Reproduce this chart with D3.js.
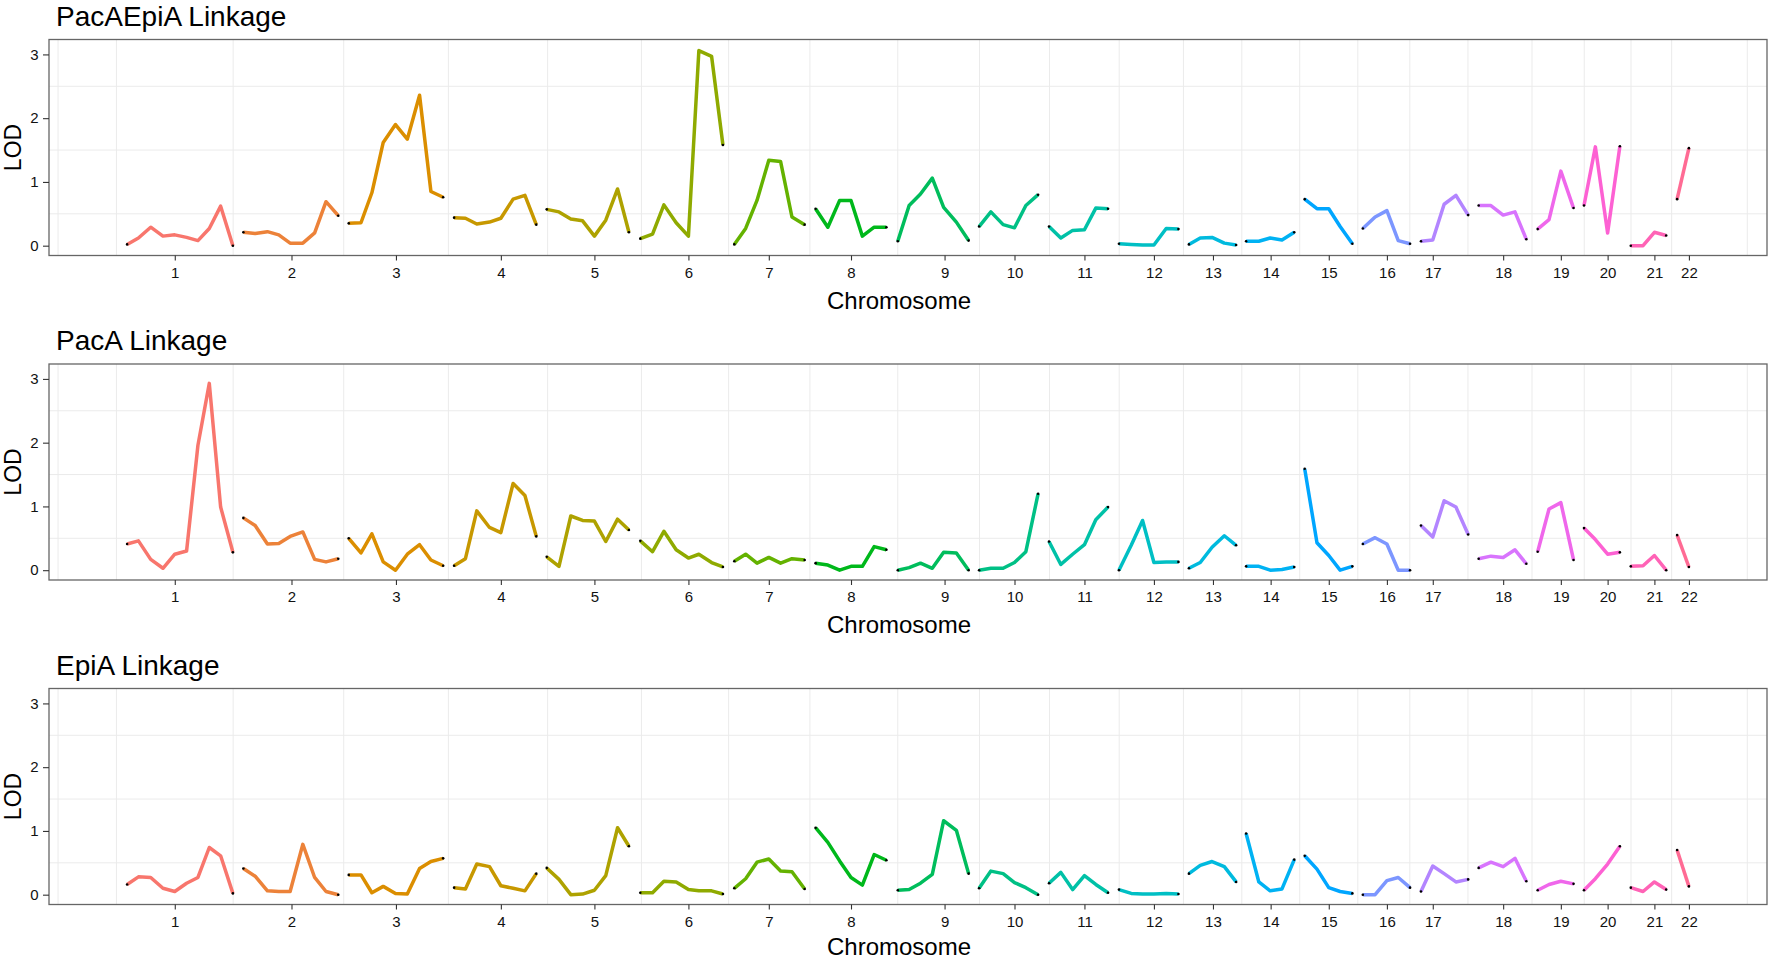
<!doctype html>
<html lang="en">
<head>
<meta charset="utf-8">
<title>Linkage LOD by chromosome</title>
<style>
  html, body { margin: 0; padding: 0; background: #fff; }
  svg text { font-family: "Liberation Sans", Arial, Helvetica, sans-serif; fill: #000; }
  .grid line { stroke: #ebebeb; stroke-width: 1; }
  .axis .domain { display: none; }
  .axis line { stroke: #333; stroke-width: 1.1; }
  .axis text { font-size: 15px; fill: #111; }
</style>
</head>
<body>
<div id="vis"></div>
<script src="https://d3js.org/d3.v7.min.js"></script>
<script>
var chromosomes = ['1','2','3','4','5','6','7','8','9','10','11','12','13','14','15','16','17','18','19','20','21','22'];

// tick position (cM, cumulative) of each chromosome label
var chrTicks = [105, 362, 592, 823, 1029, 1236, 1413, 1594, 1800, 1954, 2108, 2261,
                2391, 2518, 2646, 2774, 2875, 3030, 3157, 3260, 3363, 3439];

// marker positions (cM, cumulative), one list per chromosome
var markerPos = [
  [0, 25, 52, 79, 105, 131, 156, 181, 206, 233],
  [256, 282, 309, 334, 359, 387, 413, 438, 465],
  [488, 515, 539, 564, 591, 617, 644, 669, 696],
  [720, 745, 770, 798, 823, 850, 876, 901],
  [924, 951, 977, 1003, 1029, 1054, 1080, 1105],
  [1130, 1157, 1182, 1209, 1236, 1259, 1287, 1312],
  [1337, 1362, 1387, 1413, 1439, 1464, 1492],
  [1516, 1543, 1569, 1594, 1619, 1645, 1672],
  [1697, 1722, 1747, 1773, 1798, 1826, 1853],
  [1876, 1902, 1929, 1954, 1979, 2006],
  [2030, 2056, 2082, 2108, 2133, 2160],
  [2184, 2211, 2236, 2261, 2288, 2315],
  [2338, 2363, 2389, 2416, 2442],
  [2464, 2492, 2517, 2543, 2570],
  [2593, 2620, 2646, 2671, 2698],
  [2721, 2748, 2774, 2799, 2825],
  [2849, 2875, 2900, 2926, 2953],
  [2976, 3003, 3030, 3056, 3081],
  [3106, 3131, 3157, 3185],
  [3208, 3233, 3260, 3287],
  [3311, 3338, 3363, 3389],
  [3413, 3439]
];

var lodPacAEpiA = [
  [0.02, 0.12, 0.29, 0.15, 0.17, 0.13, 0.08, 0.27, 0.62, 0.0],
  [0.21, 0.19, 0.22, 0.17, 0.04, 0.04, 0.20, 0.69, 0.47],
  [0.35, 0.36, 0.83, 1.62, 1.90, 1.67, 2.36, 0.85, 0.76],
  [0.44, 0.43, 0.34, 0.37, 0.43, 0.73, 0.79, 0.33],
  [0.57, 0.53, 0.42, 0.39, 0.15, 0.40, 0.89, 0.21],
  [0.11, 0.18, 0.64, 0.36, 0.15, 3.06, 2.97, 1.58],
  [0.02, 0.27, 0.71, 1.34, 1.32, 0.45, 0.33],
  [0.58, 0.29, 0.71, 0.71, 0.15, 0.29, 0.29],
  [0.07, 0.63, 0.81, 1.06, 0.60, 0.37, 0.08],
  [0.30, 0.53, 0.33, 0.28, 0.63, 0.80],
  [0.30, 0.12, 0.24, 0.25, 0.59, 0.58],
  [0.03, 0.02, 0.01, 0.01, 0.27, 0.26],
  [0.02, 0.12, 0.13, 0.04, 0.01],
  [0.07, 0.07, 0.12, 0.09, 0.21],
  [0.73, 0.58, 0.58, 0.30, 0.03],
  [0.27, 0.45, 0.55, 0.08, 0.03],
  [0.07, 0.09, 0.65, 0.79, 0.48],
  [0.63, 0.63, 0.48, 0.53, 0.10],
  [0.26, 0.41, 1.17, 0.59],
  [0.63, 1.55, 0.20, 1.56],
  [0.0, 0.0, 0.21, 0.16],
  [0.73, 1.53]
];

var lodPacA = [
  [0.41, 0.46, 0.17, 0.03, 0.25, 0.30, 1.96, 2.93, 0.99, 0.28],
  [0.82, 0.70, 0.41, 0.42, 0.53, 0.60, 0.17, 0.13, 0.18],
  [0.50, 0.27, 0.57, 0.13, 0.0, 0.25, 0.40, 0.16, 0.07],
  [0.07, 0.18, 0.93, 0.67, 0.59, 1.36, 1.17, 0.53],
  [0.21, 0.06, 0.85, 0.78, 0.77, 0.45, 0.80, 0.63],
  [0.46, 0.29, 0.61, 0.32, 0.19, 0.25, 0.12, 0.05],
  [0.14, 0.25, 0.11, 0.20, 0.11, 0.18, 0.16],
  [0.11, 0.08, 0.0, 0.06, 0.06, 0.37, 0.32],
  [0.0, 0.04, 0.11, 0.03, 0.28, 0.27, 0.0],
  [0.0, 0.03, 0.03, 0.12, 0.29, 1.20],
  [0.45, 0.09, 0.25, 0.40, 0.79, 0.99],
  [0.0, 0.39, 0.78, 0.12, 0.13, 0.13],
  [0.03, 0.12, 0.36, 0.54, 0.39],
  [0.06, 0.06, 0.0, 0.01, 0.05],
  [1.59, 0.43, 0.23, 0.0, 0.06],
  [0.41, 0.51, 0.41, 0.0, 0.0],
  [0.70, 0.52, 1.09, 0.99, 0.56],
  [0.18, 0.22, 0.20, 0.32, 0.10],
  [0.29, 0.96, 1.06, 0.16],
  [0.66, 0.48, 0.25, 0.28],
  [0.06, 0.07, 0.23, 0.0],
  [0.55, 0.05]
];

var lodEpiA = [
  [0.16, 0.28, 0.27, 0.10, 0.05, 0.18, 0.27, 0.74, 0.61, 0.02],
  [0.41, 0.29, 0.06, 0.05, 0.05, 0.79, 0.27, 0.05, 0.0],
  [0.31, 0.31, 0.03, 0.13, 0.02, 0.01, 0.41, 0.52, 0.57],
  [0.11, 0.09, 0.48, 0.44, 0.14, 0.10, 0.06, 0.33],
  [0.42, 0.24, 0.0, 0.01, 0.07, 0.30, 1.05, 0.76],
  [0.03, 0.03, 0.21, 0.20, 0.08, 0.06, 0.06, 0.01],
  [0.10, 0.25, 0.51, 0.56, 0.37, 0.36, 0.09],
  [1.05, 0.82, 0.53, 0.27, 0.15, 0.63, 0.54],
  [0.07, 0.08, 0.18, 0.32, 1.16, 1.01, 0.33],
  [0.10, 0.37, 0.33, 0.19, 0.11, 0.0],
  [0.18, 0.35, 0.08, 0.30, 0.16, 0.03],
  [0.08, 0.02, 0.01, 0.01, 0.02, 0.01],
  [0.33, 0.46, 0.52, 0.44, 0.20],
  [0.96, 0.20, 0.06, 0.09, 0.55],
  [0.61, 0.40, 0.11, 0.05, 0.02],
  [0.0, 0.0, 0.22, 0.27, 0.11],
  [0.05, 0.45, 0.33, 0.20, 0.24],
  [0.42, 0.51, 0.44, 0.57, 0.21],
  [0.07, 0.16, 0.21, 0.17],
  [0.07, 0.25, 0.48, 0.76],
  [0.11, 0.05, 0.20, 0.08],
  [0.70, 0.13]
];

var panelTitles = ['PacAEpiA Linkage', 'PacA Linkage', 'EpiA Linkage'];
var panelLods = [lodPacAEpiA, lodPacA, lodEpiA];
var yTicks = [0, 1, 2, 3];
var yLimit = 3.08;

// ggplot's default hue palette: polar LUV -> sRGB
function hclLuv(h, c, l) {
    var hr = h * Math.PI / 180,
        U = c * Math.cos(hr), V = c * Math.sin(hr),
        Y = l > 8 ? Math.pow((l + 16) / 116, 3) : l / 903.3,
        u = U / (13 * l) + 0.1978398,
        v = V / (13 * l) + 0.4683363,
        X = 9 * Y * u / (4 * v),
        Z = -X / 3 - 5 * Y + 3 * Y / v;
    var rgb = [
        3.240479 * X - 1.537150 * Y - 0.498535 * Z,
        -0.969256 * X + 1.875992 * Y + 0.041556 * Z,
        0.055648 * X - 0.204043 * Y + 1.057311 * Z
    ].map(function(t){
        t = t <= 0.0031308 ? 12.92 * t : 1.055 * Math.pow(t, 1 / 2.4) - 0.055;
        return Math.round(255 * Math.max(0, Math.min(1, t)));
    });
    return d3.rgb(rgb[0], rgb[1], rgb[2]).formatHex();
}
var colors = chromosomes.map(function(c, i){ return hclLuv(15 + i * 360 / chromosomes.length, 100, 65); });

var W = 1772, H = 960,
    left = 49, right = 1767,
    firstTop = 39.5, panelH = 216, panelStep = 324.5;

var svg = d3.select('#vis').append('svg').attr('width', W).attr('height', H);

var allPos = markerPos.flat(),
    xMin = d3.min(allPos), xMax = d3.max(allPos), xPad = (xMax - xMin) * 0.05,
    x = d3.scaleLinear().domain([xMin - xPad, xMax + xPad]).range([left, right]);

// minor breaks the way ggplot places them (major ones are blank here)
var step = chrTicks[1] - chrTicks[0],
    ext = [chrTicks[0] - step].concat(chrTicks, [chrTicks[chrTicks.length - 1] + step]),
    minorX = [];
for (var i = 0; i < ext.length - 1; i++) {
    if (i === 0) minorX.push(ext[0]);
    minorX.push((ext[i] + ext[i + 1]) / 2);
}
minorX = minorX.filter(function(v){ return v > x.domain()[0] && v < x.domain()[1]; });
var minorY = [0.5, 1.5, 2.5];

panelLods.forEach(function(lods, p) {
    var top = firstTop + p * panelStep,
        bottom = top + panelH,
        y = d3.scaleLinear().domain([-yLimit * 0.05, yLimit * 1.05]).range([bottom, top]);

    var g = svg.append('g');

    var grid = g.append('g').attr('class', 'grid');
    grid.selectAll('line.v').data(minorX).enter().append('line')
        .attr('x1', function(d){ return x(d); }).attr('x2', function(d){ return x(d); })
        .attr('y1', top).attr('y2', bottom);
    grid.selectAll('line.h').data(minorY).enter().append('line')
        .attr('x1', left).attr('x2', right)
        .attr('y1', function(d){ return y(d); }).attr('y2', function(d){ return y(d); });

    var line = d3.line().x(function(d){ return x(d[0]); }).y(function(d){ return y(d[1]); });

    chromosomes.forEach(function(c, ci) {
        var pts = markerPos[ci].map(function(pos, k){ return [pos, lods[ci][k]]; });
        g.append('path').datum(pts).attr('d', line)
            .attr('fill', 'none').attr('stroke', colors[ci])
            .attr('stroke-width', 3.5).attr('stroke-linejoin', 'round').attr('stroke-linecap', 'butt');
        g.selectAll(null).data([pts[0], pts[pts.length - 1]]).enter().append('circle')
            .attr('cx', function(d){ return x(d[0]); }).attr('cy', function(d){ return y(d[1]); })
            .attr('r', 1.3).attr('fill', '#000');
    });

    g.append('rect').attr('x', left).attr('y', top).attr('width', right - left).attr('height', panelH)
        .attr('fill', 'none').attr('stroke', '#666').attr('stroke-width', 1.3);

    g.append('g').attr('class', 'axis').attr('transform', 'translate(' + left + ',0)')
        .call(d3.axisLeft(y).tickValues(yTicks).tickSize(6).tickPadding(4.5).tickFormat(d3.format('d')));

    g.append('g').attr('class', 'axis').attr('transform', 'translate(0,' + bottom + ')')
        .call(d3.axisBottom(x).tickValues(chrTicks).tickSize(5).tickPadding(6.5)
            .tickFormat(function(d, i){ return chromosomes[i]; }));

    g.append('text').attr('x', 56).attr('y', top - 14)
        .style('font-size', '28px').text(panelTitles[p]);

    g.append('text').attr('transform', 'translate(21,' + (top + panelH / 2) + ') rotate(-90)')
        .style('text-anchor', 'middle').style('font-size', '23px').text('LOD');

    g.append('text').attr('x', 899).attr('y', Math.min(bottom + 53, H - 5.3))
        .style('text-anchor', 'middle').style('font-size', '24px').text('Chromosome');
});
</script>
</body>
</html>
